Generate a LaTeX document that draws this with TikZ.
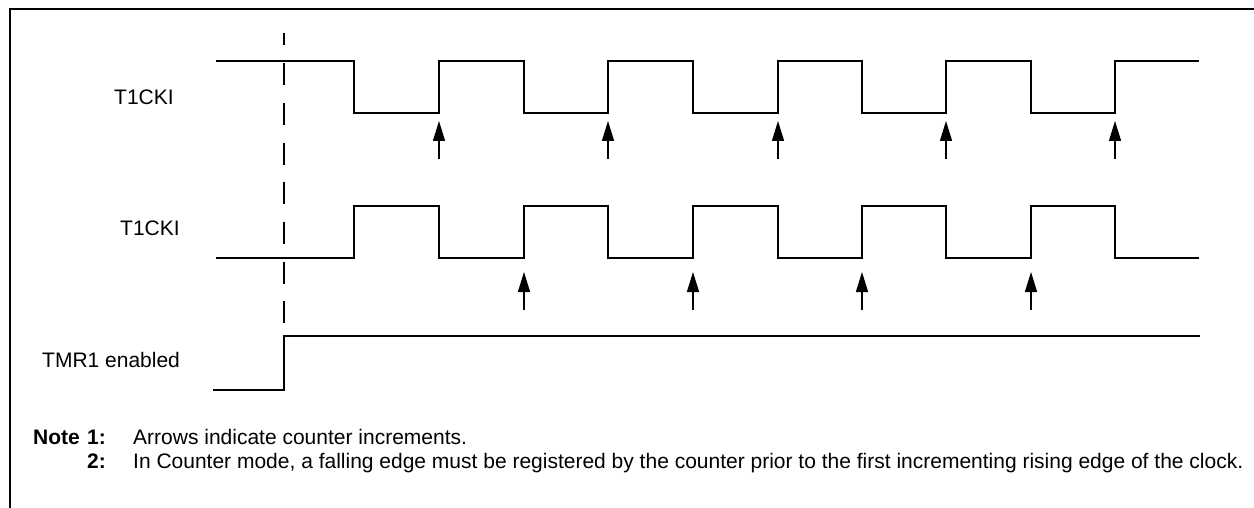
\documentclass[tikz,border=0pt]{standalone}
\usepackage{fontspec}
\setmainfont{Liberation Sans}
\usetikzlibrary{arrows.meta}
\begin{document}
\begin{tikzpicture}[x=1pt,y=-1pt,
  wave/.style={line width=1.5pt,line join=miter},
  frame/.style={line width=2pt},
  incr/.style={line width=1.5pt,-{Triangle[length=20pt,width=12pt]}},
  lbl/.style={anchor=base west,inner sep=0pt,font=\fontsize{21}{24}\selectfont},
  marker/.style={line width=1.5pt,dash pattern=on 22pt off 17.7pt,dash phase=9.5pt}]
\useasboundingbox (0,0) rectangle (1254,508);
% frame
\draw[frame] (10,508) -- (10,9) -- (1254,9);
% dashed reference line
\coordinate (dtop) at (284,33);
\coordinate (dbot) at (284,324);
\draw[marker] (dtop) -- (dbot);
% labels
\node[lbl] (l1) at (114,105) {T1CKI};
\node[lbl] (l2) at (120,236) {T1CKI};
\node[lbl] (l3) at (42,367) {TMR1 enabled};
% waveform 1
\draw[wave] (216,61) -- (354,61) -- (354,113) -- (439,113) -- (439,61) -- (524,61) -- (524,113)
  -- (608,113) -- (608,61) -- (693,61) -- (693,113) -- (778,113) -- (778,61) -- (862,61) -- (862,113)
  -- (946,113) -- (946,61) -- (1031,61) -- (1031,113) -- (1115,113) -- (1115,61) -- (1199,61);
% waveform 2
\draw[wave] (216,258) -- (354,258) -- (354,206) -- (439,206) -- (439,258) -- (524,258) -- (524,206)
  -- (608,206) -- (608,258) -- (693,258) -- (693,206) -- (778,206) -- (778,258) -- (862,258) -- (862,206)
  -- (946,206) -- (946,258) -- (1031,258) -- (1031,206) -- (1115,206) -- (1115,258) -- (1199,258);
% TMR1 enabled
\draw[wave] (213,390) -- (284,390) -- (284,336) -- (1200,336);
% arrows on waveform 1
\foreach \x in {439,608,778,946,1115}
  \draw[incr] (\x,159) -- (\x,121);
% arrows on waveform 2
\foreach \x in {524,693,862,1031}
  \draw[incr] (\x,310) -- (\x,272);
% notes
\node[lbl] (n0) at (33,444) {\textbf{Note}};
\node[lbl,anchor=base east] (n1) at (106,444) {\textbf{1:}};
\node[lbl] (n1t) at (133,444) {Arrows indicate counter increments.};
\node[lbl,anchor=base east] (n2) at (106,468) {\textbf{2:}};
\node[lbl] (n2t) at (133,468) {In Counter mode, a falling edge must be registered by the counter prior to the first incrementing rising edge of the clock.};
\end{tikzpicture}
\end{document}
